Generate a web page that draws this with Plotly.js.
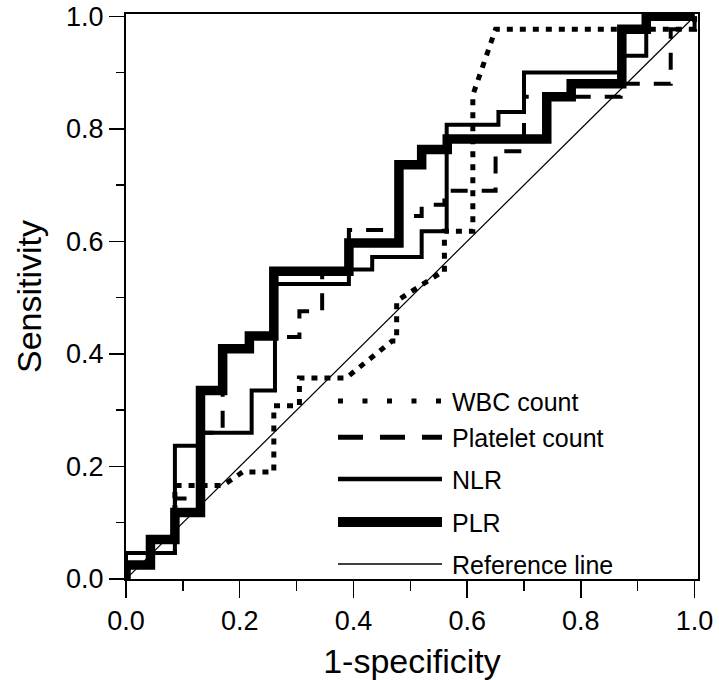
<!DOCTYPE html>
<html>
<head>
<meta charset="utf-8">
<script src="https://cdn.plot.ly/plotly-3.0.1.min.js"></script>
<style>html,body{margin:0;padding:0;background:#fff;}#chart{width:719px;height:680px;}</style>
</head>
<body>
<div id="chart"></div>
<script>
// ---- data ----
const seriesNames = ["WBC count", "Platelet count", "NLR", "PLR", "Reference line"];

const wbcX = [0, 0, 0.043, 0.043, 0.086, 0.086, 0.17, 0.205, 0.26, 0.26, 0.305, 0.305, 0.387, 0.468, 0.476, 0.476, 0.555, 0.56, 0.56, 0.61, 0.61, 0.65, 1, 1];
const wbcY = [0, 0.025, 0.025, 0.07, 0.07, 0.166, 0.166, 0.19, 0.19, 0.308, 0.308, 0.357, 0.357, 0.423, 0.423, 0.494, 0.545, 0.545, 0.618, 0.618, 0.86, 0.977, 0.977, 1];

const pltX = [0, 0, 0.086, 0.086, 0.131, 0.131, 0.17, 0.17, 0.217, 0.217, 0.305, 0.305, 0.345, 0.345, 0.392, 0.392, 0.48, 0.48, 0.52, 0.52, 0.56, 0.56, 0.65, 0.65, 0.70, 0.70, 0.87, 0.87, 0.958, 0.958, 1, 1];
const pltY = [0, 0.046, 0.046, 0.143, 0.143, 0.26, 0.26, 0.409, 0.409, 0.43, 0.43, 0.476, 0.476, 0.547, 0.547, 0.62, 0.62, 0.645, 0.645, 0.665, 0.665, 0.69, 0.69, 0.76, 0.76, 0.857, 0.857, 0.88, 0.88, 0.977, 0.977, 1];

const nlrX = [0, 0, 0.086, 0.086, 0.131, 0.131, 0.221, 0.221, 0.262, 0.262, 0.392, 0.392, 0.433, 0.433, 0.52, 0.52, 0.564, 0.564, 0.655, 0.655, 0.70, 0.70, 0.87, 0.87, 0.915, 0.915, 1];
const nlrY = [0, 0.046, 0.046, 0.237, 0.237, 0.26, 0.26, 0.335, 0.335, 0.524, 0.524, 0.55, 0.55, 0.572, 0.572, 0.618, 0.618, 0.807, 0.807, 0.83, 0.83, 0.9, 0.9, 0.93, 0.93, 1, 1];

const plrX = [0, 0, 0.043, 0.043, 0.086, 0.086, 0.131, 0.131, 0.17, 0.17, 0.217, 0.217, 0.26, 0.26, 0.392, 0.392, 0.48, 0.48, 0.52, 0.52, 0.565, 0.565, 0.74, 0.74, 0.783, 0.783, 0.872, 0.872, 0.915, 0.915, 1];
const plrY = [0, 0.025, 0.025, 0.07, 0.07, 0.118, 0.118, 0.335, 0.335, 0.409, 0.409, 0.432, 0.432, 0.547, 0.547, 0.597, 0.597, 0.736, 0.736, 0.763, 0.763, 0.782, 0.782, 0.857, 0.857, 0.88, 0.88, 0.977, 0.977, 1, 1];

const refX = [0, 1];
const refY = [0, 1];

const tickVals = [0, 0.2, 0.4, 0.6, 0.8, 1.0];
const tickText = ["0.0", "0.2", "0.4", "0.6", "0.8", "1.0"];
const xTitle = "1-specificity";
const yTitle = "Sensitivity";

// ---- styles ----
const FONT = "'Liberation Sans', Arial, Helvetica, sans-serif";
const styles = [
  {width: 5, dash: "6px,7px"},
  {width: 4, dash: "17px,14px"},
  {width: 4, dash: "solid"},
  {width: 9.5, dash: "solid"},
  {width: 1.2, dash: "solid"}
];
const legendStyles = [
  {width: 5, dash: "5px,19.5px"},
  {width: 5, dash: "25px,17px"},
  {width: 4.5, dash: "solid"},
  {width: 10, dash: "solid"},
  {width: 1.5, dash: "solid"}
];
const legendY = [0.315, 0.251, 0.177, 0.101, 0.0265];

const xs = [wbcX, pltX, nlrX, plrX, refX];
const ys = [wbcY, pltY, nlrY, plrY, refY];
const order = [4, 0, 1, 2, 3];
const traces = order.map(i => ({
  type: "scatter", mode: "lines", name: seriesNames[i],
  x: xs[i], y: ys[i],
  line: {color: "#000", width: styles[i].width, dash: styles[i].dash, shape: "linear"},
  hoverinfo: "skip"
}));

const shapes = [];
const annotations = [];
seriesNames.forEach((n, i) => {
  shapes.push({type: "line", xref: "paper", yref: "paper", x0: 0.3706, x1: 0.5524, y0: legendY[i], y1: legendY[i],
    line: {color: "#000", width: legendStyles[i].width, dash: legendStyles[i].dash}});
  annotations.push({xref: "paper", yref: "paper", x: 0.566, y: legendY[i] - 0.002, xanchor: "left", yanchor: "middle",
    text: n, showarrow: false, font: {family: FONT, size: 25, color: "#000"}});
});

const axisCommon = {
  showgrid: false, zeroline: false, showline: true, linecolor: "#000", linewidth: 2, mirror: true,
  ticks: "outside", tickcolor: "#000", tickwidth: 1.5,
  tickmode: "array", tickvals: tickVals, ticktext: tickText,
  tickfont: {family: FONT, size: 27, color: "#000"},
  fixedrange: true
};

const layout = {
  width: 719, height: 680,
  margin: {l: 126, r: 21, t: 14, b: 101},
  paper_bgcolor: "#fff", plot_bgcolor: "#fff",
  showlegend: false,
  xaxis: Object.assign({}, axisCommon, {
    range: [0, 1.006], ticklen: 17,
    minor: {dtick: 0.1, tick0: 0, ticks: "outside", ticklen: 10, tickcolor: "#000", tickwidth: 1.5},
    title: {text: xTitle, font: {family: FONT, size: 34, color: "#000"}, standoff: 15}
  }),
  yaxis: Object.assign({}, axisCommon, {
    range: [0, 1.004], ticklen: 15,
    minor: {dtick: 0.1, tick0: 0, ticks: "outside", ticklen: 8, tickcolor: "#000", tickwidth: 1.5},
    title: {text: yTitle, font: {family: FONT, size: 34, color: "#000"}, standoff: 14}
  }),
  shapes: shapes,
  annotations: annotations
};

Plotly.newPlot("chart", traces, layout, {displayModeBar: false, staticPlot: true});
</script>
</body>
</html>
